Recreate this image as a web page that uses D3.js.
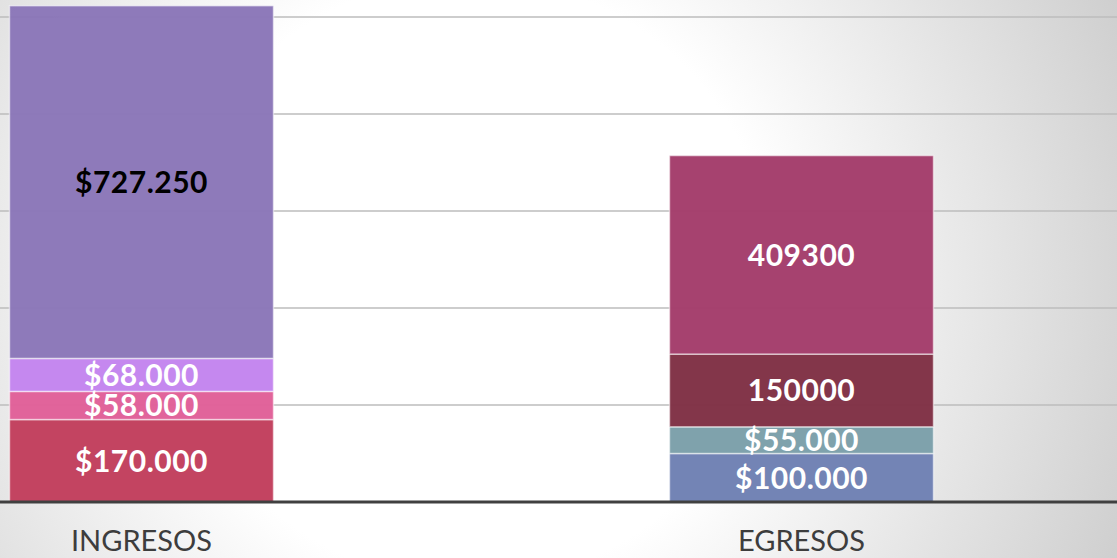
<!DOCTYPE html>
<html><head><meta charset="utf-8">
<script src="https://cdn.jsdelivr.net/npm/d3@7/dist/d3.min.js"></script>
<style>html,body{margin:0;padding:0;overflow:hidden;}svg{display:block;}</style>
</head><body>
<svg id="chart" width="1117" height="558"></svg>
<script>
const categories = ["INGRESOS", "EGRESOS"];
const ingresosValues = [170000, 58000, 68000, 727250];
const ingresosLabels = ["$170.000", "$58.000", "$68.000", "$727.250"];
const ingresosColors = ["#c13e5c", "#e05f98", "#c384ee", "#8a76b8"];
const egresosValues = [100000, 55000, 150000, 409300];
const egresosLabels = ["$100.000", "$55.000", "150000", "409300"];
const egresosColors = ["#6e80b3", "#7b9fa9", "#7f3044", "#a33c6a"];
const labelColors = [["#fff","#fff","#fff","#000"],["#fff","#fff","#fff","#fff"]];
const gridTicks = [200000, 400000, 600000, 800000, 1000000];

const W = 1117, H = 558;
const svg = d3.select("#chart");
const defs = svg.append("defs");
const rg = defs.append("radialGradient").attr("id","bg").attr("gradientUnits","userSpaceOnUse")
  .attr("cx",470).attr("cy",280).attr("r",720);
rg.append("stop").attr("offset","0").attr("stop-color","#ffffff");
rg.append("stop").attr("offset","0.42").attr("stop-color","#ffffff");
rg.append("stop").attr("offset","1").attr("stop-color","#cdcdcd");
svg.append("rect").attr("width",W).attr("height",H).attr("fill","url(#bg)");

const x = d3.scaleBand().domain(categories).range([-188.5, 1131.5]).paddingInner(0.6).paddingOuter(0.3);
const y = d3.scaleLinear().domain([0, 1000000]).range([502, 17]);

svg.append("g").selectAll("line").data(gridTicks).join("line")
  .attr("x1",0).attr("x2",W).attr("y1",d=>y(d)).attr("y2",d=>y(d))
  .attr("stroke","#bdbdbd").attr("stroke-width",1.5);

const series = [
  {cat: categories[0], values: ingresosValues, labels: ingresosLabels, colors: ingresosColors, lc: labelColors[0]},
  {cat: categories[1], values: egresosValues, labels: egresosLabels, colors: egresosColors, lc: labelColors[1]}
];
series.forEach(s => {
  let acc = 0;
  const segs = s.values.map((v,i) => { const o = {y0: acc, y1: acc+v, label: s.labels[i], color: s.colors[i], lc: s.lc[i]}; acc += v; return o; });
  const g = svg.append("g");
  g.selectAll("rect").data(segs).join("rect")
    .attr("x", x(s.cat)).attr("width", x.bandwidth())
    .attr("y", d=>y(d.y1)).attr("height", d=>y(d.y0)-y(d.y1))
    .attr("fill", d=>d.color).attr("fill-opacity",0.97)
    .attr("stroke","rgba(255,255,255,0.55)").attr("stroke-width",1.5);
  g.selectAll("text").data(segs).join("text")
    .attr("x", x(s.cat)+x.bandwidth()/2).attr("y", d=>(y(d.y0)+y(d.y1))/2)
    .attr("dy","0.36em").attr("text-anchor","middle")
    .attr("font-family","Lato, 'Open Sans', sans-serif").attr("font-weight","bold").attr("font-size",30)
    .attr("letter-spacing","0.5px")
    .attr("fill", d=>d.lc).text(d=>d.label);
});

svg.append("line").attr("x1",0).attr("x2",W).attr("y1",y(0)).attr("y2",y(0))
  .attr("stroke","#404040").attr("stroke-width",3);

const xAxis = d3.axisBottom(x).tickSize(0).tickPadding(0);
const ax = svg.append("g").attr("transform",`translate(0,${y(0)+49})`).call(xAxis);
ax.select(".domain").remove();
ax.selectAll("text").attr("font-family","Lato, sans-serif").attr("font-weight","400")
  .attr("font-size",29).attr("fill","#3d3d3d").attr("dy","0");
</script>
</body></html>
